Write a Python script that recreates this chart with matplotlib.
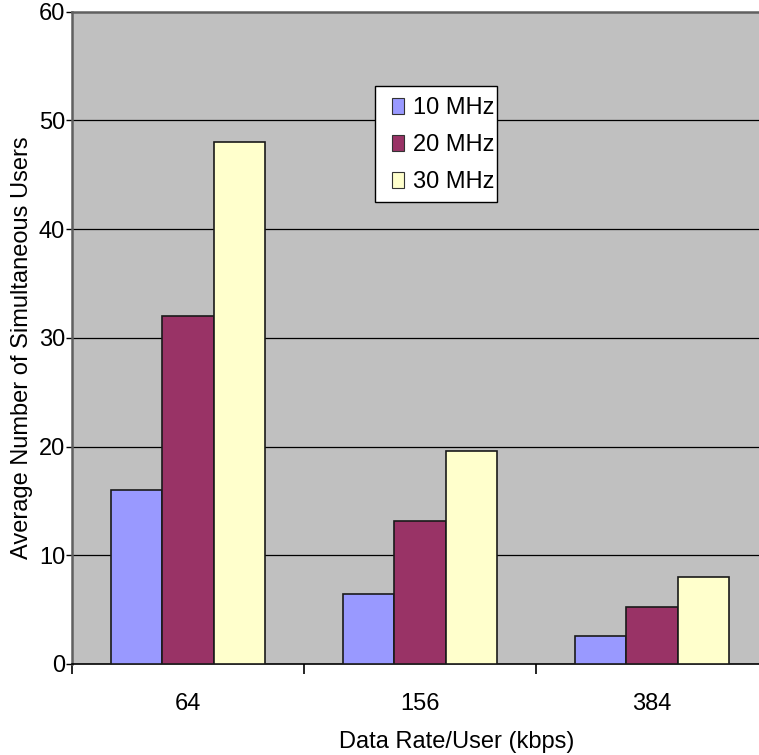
import matplotlib
matplotlib.use("Agg")
import matplotlib.pyplot as plt
import numpy as np
from matplotlib.patches import Patch, Rectangle

plt.rcParams['font.family'] = ['Liberation Sans', 'DejaVu Sans']

categories = ["64", "156", "384"]
series_names = ["10 MHz", "20 MHz", "30 MHz"]
values_10 = [16.0, 6.45, 2.6]
values_20 = [32.0, 13.15, 5.25]
values_30 = [48.0, 19.6, 8.0]
colors = ["#9999FF", "#993366", "#FFFFCC"]
yticks = [0, 10, 20, 30, 40, 50, 60]

FS = 17
W, H = 759, 755
fig = plt.figure(figsize=(W / 100, H / 100), dpi=100)
left, right, top, bottom = 72, 768, 11.5, 664
ax = fig.add_axes([left / W, 1 - bottom / H, (right - left) / W, (bottom - top) / H])
ax.set_facecolor("#C0C0C0")

x = np.arange(len(categories))
bw = 1 / 4.5
for i, (vals, c, name) in enumerate(zip([values_10, values_20, values_30], colors, series_names)):
    ax.bar(x + (i - 1) * bw, vals, width=bw, color=c, edgecolor="#1a1a1a", linewidth=1.2,
           label=name, zorder=3)

ax.set_xlim(-0.5, 2.5)
ax.set_ylim(0, 60)
ax.set_yticks(yticks)
ax.set_yticklabels([str(t) for t in yticks], fontsize=FS)
for t in yticks[1:-1]:
    ax.axhline(t, color="black", linewidth=0.9, zorder=1)

ax.set_xticks(x)
ax.set_xticklabels(categories, fontsize=FS)
ax.tick_params(axis='x', which='major', length=0, pad=21)
ax.set_xticks([-0.5, 0.5, 1.5, 2.5], minor=True)
ax.tick_params(axis='x', which='minor', length=7, width=1.2, color='black', direction='out')
ax.tick_params(axis='y', length=4, width=1, color='black', direction='out', pad=1)

ax.spines['right'].set_visible(False)
ax.spines['top'].set_color('#606060')
ax.spines['top'].set_linewidth(1.8)
ax.spines['left'].set_color('#606060')
ax.spines['left'].set_linewidth(1.8)
ax.spines['bottom'].set_color('black')
ax.spines['bottom'].set_linewidth(1.2)

fig.text(457 / W, 1 - 742 / H, "Data Rate/User (kbps)", ha='center', va='center', fontsize=FS)
fig.text(22 / W, 1 - 348 / H, "Average Number of Simultaneous Users", ha='center', va='center',
         rotation=90, fontsize=FS)

# legend frame
lx0, ly0, lx1, ly1 = 375, 86, 497, 202
frame = Rectangle((lx0 / W, 1 - ly1 / H), (lx1 - lx0) / W, (ly1 - ly0) / H,
                  transform=fig.transFigure, facecolor='white', edgecolor='black',
                  linewidth=1.0, zorder=4, clip_on=False)
ax.add_patch(frame)

handles = [Patch(facecolor=c, edgecolor='#333333', linewidth=0.8) for c in colors]
leg = ax.legend(handles, series_names, loc='upper left',
                bbox_to_anchor=(392 / W, 1 - 97 / H), bbox_transform=fig.transFigure,
                fontsize=FS, frameon=False,
                handlelength=0.51, handleheight=0.64, handletextpad=0.38,
                labelspacing=0.64, borderpad=0, borderaxespad=0)
leg.set_zorder(5)

fig.savefig("out.png", dpi=100)
